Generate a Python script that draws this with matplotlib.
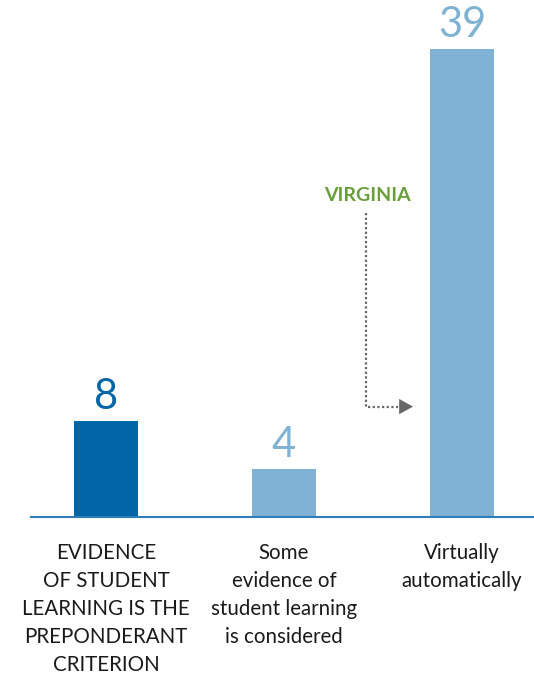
import matplotlib.pyplot as plt

plt.rcParams['font.family'] = ['Lato', 'DejaVu Sans']

# Data
categories = ["EVIDENCE\nOF STUDENT\nLEARNING IS THE\nPREPONDERANT\nCRITERION",
              "Some\nevidence of\nstudent learning\nis considered",
              "Virtually\nautomatically"]
values = [8, 4, 39]
bar_colors = ['#0066a6', '#80b3d3', '#80b3d3']
label_colors = ['#0066a6', '#80b3d3', '#80b3d3']

fig = plt.figure(figsize=(5.34, 6.76), dpi=100)
ax = fig.add_axes([0, 0, 1, 1])

x = list(range(len(values)))
ax.bar(x, values, width=0.36, color=bar_colors, zorder=2)

# value labels
for i, v in enumerate(values):
    ax.text(i, v + 0.4, str(v), ha='center', va='bottom', fontsize=30,
            color=label_colors[i])

# category labels
for i, c in enumerate(categories):
    ax.text(i, -2.2, c, ha='center', va='top', fontsize=14.8,
            color='#1a1a1a', linespacing=1.5)

# baseline
ax.axhline(0, xmin=31 / 534, xmax=1, color='#2e7fb8', lw=1.5, zorder=3)

# Virginia callout
vx = x[2] - 0.54
ax.text(vx + 0.01, 26.1, "VIRGINIA", ha='center', va='bottom', fontsize=14,
        fontweight='bold', color='#6a9e3a')
ax.plot([vx, vx, x[2] - 0.36], [25.3, 9.2, 9.2], color='#666666',
        lw=1.6, ls=(0, (1, 1.1)))
ax.annotate('', xy=(x[2] - 0.275, 9.2), xytext=(x[2] - 0.37, 9.2),
            arrowprops=dict(arrowstyle='-|>,head_length=1.0,head_width=0.55',
                            color='#666666', lw=0, shrinkA=0, shrinkB=0))

ax.set_xlim(-106 / 178, (534 - 106) / 178)
ax.set_ylim(-(676 - 517) / 12, 517 / 12)
ax.axis('off')

fig.savefig('out.png', dpi=100)
